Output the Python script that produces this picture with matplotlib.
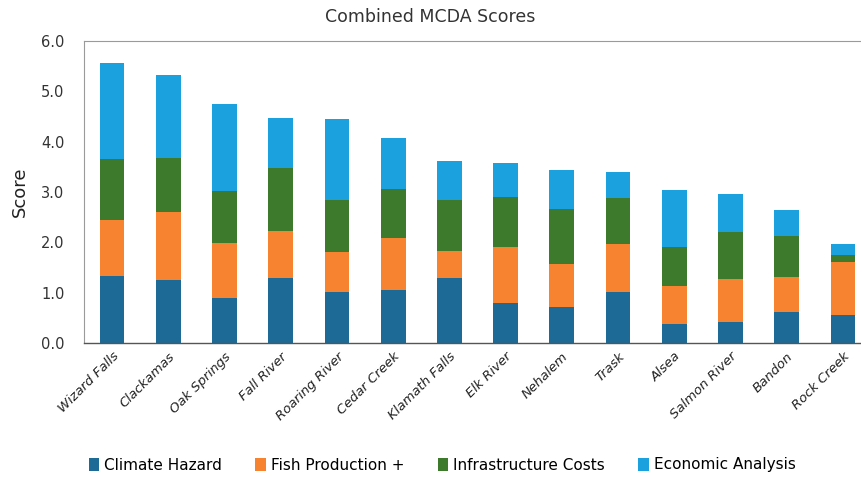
import matplotlib
matplotlib.use('Agg')
import matplotlib.pyplot as plt
import numpy as np

sites = ['Wizard Falls', 'Clackamas', 'Oak Springs', 'Fall River', 'Roaring River',
         'Cedar Creek', 'Klamath Falls', 'Elk River', 'Nehalem', 'Trask', 'Alsea',
         'Salmon River', 'Bandon', 'Rock Creek']
climate_hazard = [1.34, 1.26, 0.89, 1.30, 1.02, 1.06, 1.30, 0.80, 0.72, 1.02, 0.38, 0.41, 0.62, 0.55]
fish_production = [1.11, 1.34, 1.10, 0.93, 0.79, 1.03, 0.53, 1.11, 0.84, 0.94, 0.76, 0.87, 0.70, 1.06]
infrastructure = [1.20, 1.07, 1.02, 1.25, 1.04, 0.96, 1.02, 0.99, 1.11, 0.93, 0.77, 0.92, 0.81, 0.13]
economic = [1.91, 1.65, 1.74, 1.00, 1.60, 1.02, 0.77, 0.68, 0.76, 0.50, 1.13, 0.76, 0.52, 0.23]

series = [
    ('Climate Hazard', climate_hazard, '#1d6a96'),
    ('Fish Production +', fish_production, '#f7822f'),
    ('Infrastructure Costs', infrastructure, '#3e7a2c'),
    ('Economic Analysis', economic, '#1ba1de'),
]

fig = plt.figure(figsize=(8.61, 4.8), dpi=100)
ax = fig.add_axes([84 / 861, 1 - 343 / 480, (871 - 84) / 861, (343 - 41) / 480])

x = np.arange(len(sites))
bottom = np.zeros(len(sites))
for label, vals, color in series:
    ax.bar(x, vals, 0.44, bottom=bottom, color=color, label=label, zorder=2)
    bottom += np.array(vals)

ax.set_xlim(-0.5, len(sites) - 0.5)
ax.set_ylim(0, 6)
ax.set_yticks(np.arange(0, 6.1, 1.0))
ax.set_yticklabels([f'{v:.1f}' for v in np.arange(0, 6.1, 1.0)], fontsize=10.5, color='#333333')
ax.set_xticks(x)
ax.set_xticklabels(sites, rotation=45, ha='right', rotation_mode='anchor',
                   fontsize=9.5, style='italic', color='#222222')
ax.tick_params(axis='y', length=0, pad=14)
ax.tick_params(axis='x', length=0, pad=5)

for side in ('left', 'top', 'right'):
    ax.spines[side].set_color('#9a9a9a')
    ax.spines[side].set_linewidth(0.8)
ax.spines['bottom'].set_color('#555555')
ax.spines['bottom'].set_linewidth(1.0)

ax.set_ylabel('Score', fontsize=13, color='#222222', labelpad=9)
fig.text(430 / 861, 1 - 17 / 480, 'Combined MCDA Scores', ha='center', va='center',
         fontsize=12.5, color='#333333')

fig.legend(loc='center', bbox_to_anchor=(442 / 861, 1 - 465 / 480), ncol=4,
           frameon=False, fontsize=11, handlelength=0.7, handleheight=0.9,
           handletextpad=0.3, columnspacing=2.2)

fig.savefig('out.png', dpi=100)
